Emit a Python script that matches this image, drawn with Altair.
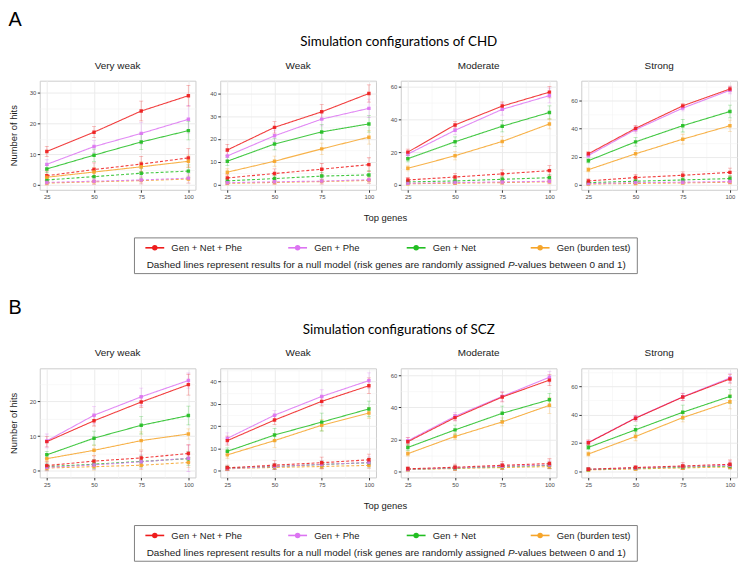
import altair as alt
import pandas as pd

METHODS = ["Gen + Net + Phe", "Gen + Phe", "Gen + Net", "Gen (burden test)"]
COLORS = ["#EE1C1C", "#DC74F2", "#22BE22", "#F6A52A"]
TOP_GENES = [25, 50, 75, 100]
STRENGTHS = ["Very weak", "Weak", "Moderate", "Strong"]

# ---- CHD (rows follow METHODS, columns follow TOP_GENES) ----
CHD_VW = [[10.9, 17.2, 24.1, 29.1], [6.7, 12.5, 16.8, 21.4], [5.2, 9.7, 14.0, 17.7], [2.5, 4.2, 5.9, 7.7]]
CHD_VW_SD = [[1.7, 1.8, 3.2, 3.4], [1.5, 2.0, 3.5, 4.5], [1.2, 2.0, 2.5, 3.0], [1.0, 1.5, 1.8, 2.0]]
CHD_VW_NULL = [[3.0, 5.0, 6.8, 8.8], [0.8, 1.2, 1.6, 2.2], [1.6, 2.7, 3.8, 4.5], [0.6, 1.0, 1.4, 1.9]]
CHD_VW_NULL_SD = [[1.5, 2.2, 2.5, 3.0], [0.8, 1.0, 1.3, 1.6], [1.0, 1.3, 1.6, 2.0], [0.7, 0.9, 1.1, 1.3]]

CHD_W = [[15.2, 25.1, 31.9, 39.9], [12.6, 21.4, 28.7, 33.4], [10.3, 17.8, 23.1, 26.6], [5.5, 10.3, 15.7, 20.8]]
CHD_W_SD = [[2.5, 2.5, 3.2, 3.8], [2.0, 2.5, 3.0, 4.0], [1.8, 2.5, 3.2, 3.6], [1.5, 2.2, 2.5, 3.0]]
CHD_W_NULL = [[3.0, 4.9, 6.8, 8.8], [0.9, 1.3, 1.6, 2.2], [1.7, 2.7, 3.8, 4.3], [0.6, 1.0, 1.4, 1.9]]
CHD_W_NULL_SD = [[1.5, 2.0, 2.5, 3.0], [0.8, 1.0, 1.3, 1.6], [1.0, 1.3, 1.6, 2.0], [0.7, 0.9, 1.1, 1.3]]

CHD_M = [[20.0, 36.6, 48.1, 56.6], [18.8, 33.3, 46.1, 54.5], [16.0, 26.3, 35.8, 44.2], [10.1, 17.8, 26.5, 37.2]]
CHD_M_SD = [[1.8, 2.0, 2.5, 3.5], [1.8, 2.5, 3.5, 4.5], [2.0, 3.0, 3.5, 4.0], [1.5, 2.5, 3.0, 3.0]]
CHD_M_NULL = [[3.0, 4.8, 6.7, 8.7], [1.0, 1.4, 1.8, 2.2], [1.8, 2.4, 3.4, 4.4], [0.7, 1.0, 1.4, 1.9]]
CHD_M_NULL_SD = [[1.5, 2.2, 2.5, 3.0], [0.8, 1.0, 1.3, 1.6], [1.0, 1.3, 1.6, 2.0], [0.7, 0.9, 1.1, 1.3]]

CHD_S = [[22.1, 40.2, 56.2, 68.2], [20.9, 39.3, 54.6, 67.3], [17.2, 30.6, 42.1, 52.2], [10.8, 22.1, 32.5, 42.1]]
CHD_S_SD = [[1.5, 2.0, 1.5, 2.0], [1.5, 2.5, 2.0, 2.5], [1.5, 3.0, 4.5, 4.5], [1.5, 2.5, 3.5, 4.0]]
CHD_S_NULL = [[2.8, 5.2, 6.8, 8.9], [0.9, 1.6, 1.9, 2.4], [1.6, 2.6, 3.5, 4.5], [0.6, 1.0, 1.4, 1.9]]
CHD_S_NULL_SD = [[1.5, 2.2, 2.5, 3.0], [0.8, 1.0, 1.3, 1.6], [1.0, 1.3, 1.6, 2.0], [0.7, 0.9, 1.1, 1.3]]

# ---- SCZ ----
SCZ_VW = [[8.4, 14.4, 19.8, 24.8], [8.6, 16.0, 21.3, 26.0], [4.6, 9.4, 13.1, 15.9], [3.5, 5.9, 8.7, 10.6]]
SCZ_VW_SD = [[1.5, 1.5, 1.5, 3.0], [2.0, 2.5, 2.5, 2.2], [1.0, 2.0, 2.5, 2.7], [1.0, 1.5, 2.5, 1.5]]
SCZ_VW_NULL = [[1.5, 2.8, 3.7, 5.0], [1.0, 1.7, 2.6, 3.6], [1.2, 1.9, 2.7, 3.5], [0.8, 1.2, 1.6, 2.4]]
SCZ_VW_NULL_SD = [[1.2, 1.5, 2.0, 2.5], [1.0, 1.3, 2.0, 3.8], [1.0, 1.3, 1.6, 2.0], [0.8, 1.0, 1.2, 1.5]]

SCZ_W = [[13.5, 22.7, 31.1, 38.1], [14.5, 24.9, 33.3, 40.4], [8.7, 16.0, 21.8, 27.7], [7.1, 13.5, 20.4, 25.9]]
SCZ_W_SD = [[2.0, 2.0, 2.0, 3.5], [2.5, 2.0, 3.0, 3.5], [1.5, 3.0, 4.0, 3.5], [1.5, 3.0, 2.5, 2.5]]
SCZ_W_NULL = [[1.3, 2.5, 3.6, 4.9], [1.0, 1.9, 2.8, 3.7], [1.2, 1.9, 2.8, 3.6], [0.9, 1.5, 1.9, 2.4]]
SCZ_W_NULL_SD = [[1.2, 2.0, 2.5, 2.5], [1.0, 1.3, 1.8, 2.5], [1.0, 1.3, 1.6, 2.0], [0.8, 1.0, 1.2, 1.5]]

SCZ_M = [[18.5, 33.6, 46.5, 57.1], [19.1, 34.4, 46.9, 58.9], [14.9, 25.9, 36.3, 44.8], [11.0, 21.8, 30.9, 41.3]]
SCZ_M_SD = [[2.5, 2.0, 3.0, 3.5], [2.0, 2.5, 3.0, 3.5], [2.0, 3.0, 4.5, 4.0], [1.5, 2.0, 2.5, 5.0]]
SCZ_M_NULL = [[1.5, 2.5, 3.7, 4.8], [1.2, 2.1, 3.1, 3.9], [1.2, 2.0, 2.9, 3.7], [1.0, 1.7, 2.3, 2.9]]
SCZ_M_NULL_SD = [[1.5, 2.0, 2.5, 3.0], [1.0, 1.3, 1.8, 2.5], [1.0, 1.3, 1.6, 2.0], [0.8, 1.0, 1.2, 1.5]]

SCZ_S = [[20.1, 37.4, 52.3, 65.1], [20.3, 37.6, 52.5, 65.8], [16.8, 29.2, 41.6, 52.8], [12.1, 24.5, 37.8, 49.0]]
SCZ_S_SD = [[2.0, 2.0, 2.5, 3.0], [1.5, 2.0, 2.5, 3.0], [1.5, 3.0, 5.0, 5.0], [1.5, 3.0, 3.0, 5.0]]
SCZ_S_NULL = [[1.4, 2.6, 3.7, 4.9], [1.3, 2.3, 3.3, 4.2], [1.2, 2.1, 3.0, 3.7], [0.9, 1.6, 2.3, 3.0]]
SCZ_S_NULL_SD = [[1.2, 1.5, 2.5, 3.0], [1.0, 1.3, 1.8, 2.5], [1.0, 1.3, 1.6, 2.0], [0.8, 1.0, 1.2, 1.5]]

# y-axis ranges of each panel and major break step
CHD_Y_DOMAINS = [[-1.6, 34.0], [-2.2, 45.5], [-3.0, 63.6], [-3.5, 74.1]]
SCZ_Y_DOMAINS = [[-1.9, 29.5], [-3.0, 45.9], [-3.9, 64.5], [-4.4, 72.6]]
Y_STEPS = [10, 10, 20, 20]

NOTE_1 = "Dashed lines represent results for a null model (risk genes are randomly assigned"
NOTE_P = "P"
NOTE_2 = "-values between 0 and 1)"

PANELS = {
    "CHD": [(CHD_VW, CHD_VW_SD, CHD_VW_NULL, CHD_VW_NULL_SD),
            (CHD_W, CHD_W_SD, CHD_W_NULL, CHD_W_NULL_SD),
            (CHD_M, CHD_M_SD, CHD_M_NULL, CHD_M_NULL_SD),
            (CHD_S, CHD_S_SD, CHD_S_NULL, CHD_S_NULL_SD)],
    "SCZ": [(SCZ_VW, SCZ_VW_SD, SCZ_VW_NULL, SCZ_VW_NULL_SD),
            (SCZ_W, SCZ_W_SD, SCZ_W_NULL, SCZ_W_NULL_SD),
            (SCZ_M, SCZ_M_SD, SCZ_M_NULL, SCZ_M_NULL_SD),
            (SCZ_S, SCZ_S_SD, SCZ_S_NULL, SCZ_S_NULL_SD)],
}

rows = []
for disease, plist in PANELS.items():
    for strength, (obs, obs_sd, nul, nul_sd) in zip(STRENGTHS, plist):
        for model, means, sds in [("null", nul, nul_sd), ("observed", obs, obs_sd)]:
            for mi in reversed(range(len(METHODS))):
                for gi, g in enumerate(TOP_GENES):
                    v = means[mi][gi]
                    s = sds[mi][gi]
                    rows.append({"disease": disease, "strength": strength,
                                 "method": METHODS[mi], "model": model,
                                 "series": f"{model}-{mi}",
                                 "genes": g, "hits": v, "lo": v - s, "hi": v + s})
df = pd.DataFrame(rows)

FONT = "Liberation Sans"
PANEL_W = 157
PANEL_H = 110
EXTENT = 13


def cond(test, a, b):
    return {"condition": {"test": test, "value": a}, "value": b}


def make_panel(disease, idx, ydom):
    strength = STRENGTHS[idx]
    step = Y_STEPS[idx]
    d = df[(df.disease == disease) & (df.strength == strength)]
    xmaj = "datum.value % 25 === 0"
    xaxis = alt.Axis(values=[25, 37.5, 50, 62.5, 75, 87.5, 100], title=None, domain=False,
                     labelExpr=f"{xmaj} ? format(datum.value, 'd') : ''",
                     gridColor=cond(xmaj, "#EBEBEB", "#F4F4F4"),
                     gridWidth=cond(xmaj, 1, 0.6),
                     tickOpacity=cond(xmaj, 1, 0),
                     labelFontSize=6, labelColor="#4D4D4D", labelFont=FONT,
                     tickColor="#333333", tickSize=2.5, labelPadding=1.5, labelFlush=False)
    half = step / 2
    yvals = []
    v = 0.0
    while v <= ydom[1]:
        yvals.append(v)
        v += half
    ymaj = f"datum.value % {step} === 0"
    yaxis_kw = dict(values=yvals, domain=False,
                    labelExpr=f"{ymaj} ? format(datum.value, 'd') : ''",
                    gridColor=cond(ymaj, "#EBEBEB", "#F4F4F4"),
                    gridWidth=cond(ymaj, 1, 0.6),
                    tickOpacity=cond(ymaj, 1, 0),
                    labelFontSize=6, labelColor="#4D4D4D", labelFont=FONT,
                    tickColor="#333333", tickSize=2.5, labelPadding=1.5,
                    minExtent=EXTENT, maxExtent=EXTENT, labelFlush=False)
    if idx == 0:
        yaxis = alt.Axis(title="Number of hits", titleFont=FONT, titleFontSize=9.5,
                         titleFontWeight="normal", titleColor="#1A1A1A", titlePadding=8,
                         **yaxis_kw)
    else:
        yaxis = alt.Axis(title=None, **yaxis_kw)
    xs = alt.Scale(domain=[21.25, 103.75], nice=False, zero=False)
    ys = alt.Scale(domain=ydom, nice=False, zero=False)
    color = alt.Color("method:N", scale=alt.Scale(domain=METHODS, range=COLORS), legend=None)
    dash = alt.StrokeDash("model:N", scale=alt.Scale(domain=["observed", "null"], range=[[1, 0], [3, 2]]),
                          legend=None)
    base = alt.Chart(d)
    err = base.mark_errorbar(ticks=True, size=4, thickness=0.8, opacity=0.35, clip=True).encode(
        x=alt.X("genes:Q", scale=xs, axis=xaxis),
        y=alt.Y("lo:Q", scale=ys, axis=yaxis),
        y2="hi:Q",
        color=color,
        detail="series:N",
    )
    line = base.mark_line(strokeWidth=1.1, opacity=0.85, clip=True).encode(
        x=alt.X("genes:Q", scale=xs, axis=xaxis),
        y=alt.Y("hits:Q", scale=ys, axis=yaxis),
        color=color,
        strokeDash=dash,
        detail="series:N",
    )
    pts = base.mark_point(filled=True, size=12, opacity=0.9, shape="square", clip=True).encode(
        x=alt.X("genes:Q", scale=xs, axis=xaxis),
        y=alt.Y("hits:Q", scale=ys, axis=yaxis),
        color=color,
    )
    return alt.layer(err, line, pts).properties(
        width=PANEL_W, height=PANEL_H,
        title=alt.TitleParams(strength, font=FONT, fontSize=10, fontWeight="normal",
                              color="#1A1A1A", anchor="middle", offset=10),
    )


LEGEND_X = [21, 165, 284.5, 409.5]
leg_df = pd.DataFrame({"method": METHODS, "slot": list(range(len(METHODS)))})
note_df = pd.DataFrame({"t1": [NOTE_1], "tp": [NOTE_P], "t2": [NOTE_2]})


def make_legend():
    xenc = alt.X("slot:Q", scale=alt.Scale(domain=[0, 1, 2, 3], range=LEGEND_X), axis=None)
    color = alt.Color("method:N", scale=alt.Scale(domain=METHODS, range=COLORS), legend=None)
    lb = alt.Chart(leg_df)
    sym_line = lb.mark_point(shape="M-1,0L1,0", size=361, strokeWidth=1.6, filled=False, opacity=1).encode(
        x=xenc, y=alt.value(10.5), color=color)
    sym_dot = lb.mark_point(shape="circle", size=30, filled=True, opacity=1).encode(
        x=xenc, y=alt.value(10.5), color=color)
    lab = lb.mark_text(align="left", baseline="middle", dx=16.7, fontSize=9.5, font=FONT,
                       color="#1A1A1A").encode(x=xenc, y=alt.value(11), text="method:N")
    nb = alt.Chart(note_df)
    n1 = nb.mark_text(align="right", baseline="middle", fontSize=10, font=FONT, color="#1A1A1A").encode(
        x=alt.value(374.2), y=alt.value(28), text="t1:N")
    npp = nb.mark_text(align="left", baseline="middle", fontSize=10, font=FONT, fontStyle="italic",
                       color="#1A1A1A").encode(x=alt.value(377), y=alt.value(28), text="tp:N")
    n2 = nb.mark_text(align="left", baseline="middle", fontSize=10, font=FONT, color="#1A1A1A").encode(
        x=alt.value(383.7), y=alt.value(28), text="t2:N")
    leg = alt.layer(sym_line, sym_dot, lab, n1, npp, n2).properties(
        width=507, height=36,
        view=alt.ViewBackground(stroke="#7F7F7F", strokeWidth=1),
        title=alt.TitleParams("Top genes", font=FONT, fontSize=9.5, fontWeight="normal",
                              color="#1A1A1A", anchor="middle", offset=15),
    )
    spacer = alt.Chart(note_df).mark_text(text=" ").encode(x=alt.value(0), y=alt.value(0)).properties(
        width=94, height=36, view=alt.ViewBackground(strokeOpacity=0))
    return alt.hconcat(spacer, leg, spacing=0)


def make_section(disease, letter, domains):
    panels = [make_panel(disease, i, domains[i]) for i in range(4)]
    row = alt.hconcat(*panels, spacing=10).properties(
        title=alt.TitleParams(f"Simulation configurations of {disease}", font="Lato", fontSize=13.5,
                              fontWeight="normal", color="#000000", anchor="middle", dx=26, offset=12))
    return alt.vconcat(row, make_legend(), spacing=12).properties(
        title=alt.TitleParams(letter, font=FONT, fontSize=20, fontWeight="normal", color="#000000",
                              anchor="start", offset=5))


chart = alt.vconcat(
    make_section("CHD", "A", CHD_Y_DOMAINS),
    make_section("SCZ", "B", SCZ_Y_DOMAINS),
    spacing=24,
).properties(padding=0, background="white").configure_view(stroke="#CCCCCC", strokeWidth=1)

chart.save("out.html", embed_options={"renderer": "svg", "actions": False})
